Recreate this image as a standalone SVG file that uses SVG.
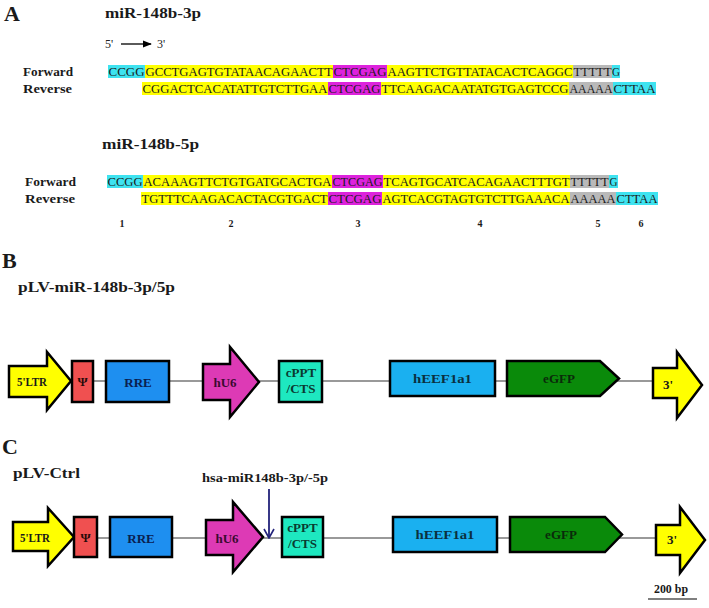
<svg xmlns="http://www.w3.org/2000/svg" width="709" height="608" viewBox="0 0 709 608">
<defs>
<style>
.t{font-family:"Liberation Serif","Times New Roman",serif;font-weight:bold;fill:#1a1a1a}
.seq{font-family:"Liberation Serif","Times New Roman",serif;font-size:12.5px;fill:#1a1a1a}
.cy{fill:#3ee3f0}.ye{fill:#ffff00}.mg{fill:#dd22dd}.gr{fill:#b9b9b9}
.nd{stroke:#000;stroke-width:2.5;stroke-linejoin:miter}
.lbl{font-family:"Liberation Serif","Times New Roman",serif;font-weight:bold;font-size:13px;text-anchor:middle}
.bb{stroke:#777;stroke-width:1.5;fill:none}
</style>
<marker id="ah" viewBox="0 0 10 10" refX="9" refY="5" markerWidth="7" markerHeight="7" orient="auto">
<path d="M0,1 L10,5 L0,9 z" fill="#000"/>
</marker>
<marker id="vh" viewBox="0 0 12 12" refX="6" refY="11" markerWidth="12" markerHeight="12" markerUnits="userSpaceOnUse" orient="0">
<path d="M1,2 L6,11 L11,2" fill="none" stroke="#22227a" stroke-width="1.6"/>
</marker>
</defs>
<rect width="709" height="608" fill="#fff"/>

<!-- Panel A -->
<g id="panelA">
<text class="t" x="4" y="21" font-size="22">A</text>
<text class="t" x="105" y="18" font-size="15" textLength="96" lengthAdjust="spacingAndGlyphs">miR-148b-3p</text>
<text x="105" y="48" font-family="Liberation Serif, serif" font-size="12" fill="#222">5'</text>
<line x1="121" y1="44" x2="151" y2="44" stroke="#000" stroke-width="1.3" marker-end="url(#ah)"/>
<text x="157" y="48" font-family="Liberation Serif, serif" font-size="12" fill="#222">3'</text>

<text class="t" x="23" y="76" font-size="13" textLength="50" lengthAdjust="spacingAndGlyphs">Forward</text>
<text class="t" x="23" y="93" font-size="13" textLength="49" lengthAdjust="spacingAndGlyphs">Reverse</text>

<!-- 3p forward -->
<rect class="cy" x="108" y="65" width="37" height="13"/>
<rect class="ye" x="145" y="65" width="188" height="13"/>
<rect class="mg" x="333" y="65" width="54" height="13"/>
<rect class="ye" x="387" y="65" width="186" height="13"/>
<rect class="gr" x="573" y="65" width="39" height="13"/>
<rect class="cy" x="612" y="65" width="8" height="13"/>
<text class="seq" x="108.5" y="76" textLength="36" lengthAdjust="spacingAndGlyphs">CCGG</text>
<text class="seq" x="145.5" y="76" textLength="187" lengthAdjust="spacingAndGlyphs">GCCTGAGTGTATAACAGAACTT</text>
<text class="seq" x="333.5" y="76" textLength="53" lengthAdjust="spacingAndGlyphs">CTCGAG</text>
<text class="seq" x="387.5" y="76" textLength="185" lengthAdjust="spacingAndGlyphs">AAGTTCTGTTATACACTCAGGC</text>
<text class="seq" x="573.5" y="76" textLength="38" lengthAdjust="spacingAndGlyphs">TTTTT</text>
<text class="seq" x="612" y="76" textLength="8" lengthAdjust="spacingAndGlyphs">G</text>
<!-- 3p reverse -->
<rect class="ye" x="142" y="82" width="186" height="13"/>
<rect class="mg" x="328" y="82" width="53" height="13"/>
<rect class="ye" x="381" y="82" width="188" height="13"/>
<rect class="gr" x="569" y="82" width="44" height="13"/>
<rect class="cy" x="613" y="82" width="43" height="13"/>
<text class="seq" x="142.5" y="93" textLength="185" lengthAdjust="spacingAndGlyphs">CGGACTCACATATTGTCTTGAA</text>
<text class="seq" x="328.5" y="93" textLength="52" lengthAdjust="spacingAndGlyphs">CTCGAG</text>
<text class="seq" x="381.5" y="93" textLength="187" lengthAdjust="spacingAndGlyphs">TTCAAGACAATATGTGAGTCCG</text>
<text class="seq" x="569.5" y="93" textLength="43" lengthAdjust="spacingAndGlyphs">AAAAA</text>
<text class="seq" x="613.5" y="93" textLength="42" lengthAdjust="spacingAndGlyphs">CTTAA</text>

<text class="t" x="102" y="149" font-size="15" textLength="97" lengthAdjust="spacingAndGlyphs">miR-148b-5p</text>
<text class="t" x="25" y="186" font-size="13" textLength="51" lengthAdjust="spacingAndGlyphs">Forward</text>
<text class="t" x="25" y="203" font-size="13" textLength="50" lengthAdjust="spacingAndGlyphs">Reverse</text>

<!-- 5p forward -->
<rect class="cy" x="107" y="175" width="36" height="13"/>
<rect class="ye" x="143" y="175" width="189" height="13"/>
<rect class="mg" x="332" y="175" width="51" height="13"/>
<rect class="ye" x="383" y="175" width="187" height="13"/>
<rect class="gr" x="570" y="175" width="39" height="13"/>
<rect class="cy" x="609" y="175" width="9" height="13"/>
<text class="seq" x="107.5" y="186" textLength="35" lengthAdjust="spacingAndGlyphs">CCGG</text>
<text class="seq" x="143.5" y="186" textLength="188" lengthAdjust="spacingAndGlyphs">ACAAAGTTCTGTGATGCACTGA</text>
<text class="seq" x="332.5" y="186" textLength="50" lengthAdjust="spacingAndGlyphs">CTCGAG</text>
<text class="seq" x="383.5" y="186" textLength="186" lengthAdjust="spacingAndGlyphs">TCAGTGCATCACAGAACTTTGT</text>
<text class="seq" x="570.5" y="186" textLength="38" lengthAdjust="spacingAndGlyphs">TTTTT</text>
<text class="seq" x="609.5" y="186" textLength="8" lengthAdjust="spacingAndGlyphs">G</text>
<!-- 5p reverse -->
<rect class="ye" x="141" y="192" width="187" height="13"/>
<rect class="mg" x="328" y="192" width="54" height="13"/>
<rect class="ye" x="382" y="192" width="188" height="13"/>
<rect class="gr" x="570" y="192" width="46" height="13"/>
<rect class="cy" x="616" y="192" width="42" height="13"/>
<text class="seq" x="141.5" y="203" textLength="186" lengthAdjust="spacingAndGlyphs">TGTTTCAAGACACTACGTGACT</text>
<text class="seq" x="328.5" y="203" textLength="53" lengthAdjust="spacingAndGlyphs">CTCGAG</text>
<text class="seq" x="382.5" y="203" textLength="187" lengthAdjust="spacingAndGlyphs">AGTCACGTAGTGTCTTGAAACA</text>
<text class="seq" x="570.5" y="203" textLength="45" lengthAdjust="spacingAndGlyphs">AAAAA</text>
<text class="seq" x="616.5" y="203" textLength="41" lengthAdjust="spacingAndGlyphs">CTTAA</text>

<g class="t" font-size="10" text-anchor="middle">
<text x="122" y="227">1</text>
<text x="231" y="227">2</text>
<text x="358" y="227">3</text>
<text x="480" y="227">4</text>
<text x="598" y="227">5</text>
<text x="641" y="227">6</text>
</g>
</g>

<!-- Panel B / C headings -->
<text class="t" x="2" y="268" font-size="22">B</text>
<text class="t" x="18" y="292" font-size="15" textLength="157" lengthAdjust="spacingAndGlyphs">pLV-miR-148b-3p/5p</text>
<text class="t" x="2" y="454" font-size="22">C</text>
<text class="t" x="13" y="478" font-size="15" textLength="67" lengthAdjust="spacingAndGlyphs">pLV-Ctrl</text>
<text class="t" x="202" y="482" font-size="13" textLength="126" lengthAdjust="spacingAndGlyphs">hsa-miR148b-3p/-5p</text>

<!-- connectors -->
<g id="connectors">
<line class="bb" x1="60" y1="381" x2="660" y2="381"/>
<line class="bb" x1="60" y1="538" x2="662" y2="538"/>
<line x1="269" y1="489" x2="269" y2="538" stroke="#22227a" stroke-width="1.8" marker-end="url(#vh)"/>
</g>

<!-- Row B nodes -->
<g id="b-5ltr">
<polygon class="nd" fill="#ffff00" points="9,366 47,366 47,352 71,381 47,410 47,397 9,397"/>
<text class="lbl" x="32" y="386" textLength="30" lengthAdjust="spacingAndGlyphs" fill="#1a1a1a">5'LTR</text>
</g>
<g id="b-psi">
<rect class="nd" fill="#f05050" x="72" y="361" width="21" height="41"/>
<text class="lbl" x="82.5" y="386" fill="#2a0a0a">Ψ</text>
</g>
<g id="b-rre">
<rect class="nd" fill="#1e8ff0" x="106" y="361" width="63" height="41"/>
<text class="lbl" x="138" y="387" fill="#0a2050" font-size="14">RRE</text>
</g>
<g id="b-hu6">
<polygon class="nd" fill="#dd3ab5" points="203,364 230,364 230,347 259,382 230,417 230,400 203,400"/>
<text class="lbl" x="225" y="387" fill="#3a0a30" font-size="14">hU6</text>
</g>
<g id="b-cppt">
<rect class="nd" fill="#1ee8c0" x="279" y="361" width="43" height="41"/>
<text class="lbl" x="301" y="377" fill="#0a3a30" font-size="11">cPPT</text>
<text class="lbl" x="301" y="393" fill="#0a3a30" font-size="11">/CTS</text>
</g>
<g id="b-heef">
<rect class="nd" fill="#1ab0f0" x="390" y="361" width="105" height="35"/>
<text class="lbl" x="442.5" y="383" fill="#0a3040" textLength="59" lengthAdjust="spacingAndGlyphs">hEEF1a1</text>
</g>
<g id="b-egfp">
<polygon class="nd" fill="#0a8a0a" points="507,361 600,361 619,378.5 600,396 507,396"/>
<text class="lbl" x="559" y="383" fill="#0a2a0a">eGFP</text>
</g>
<g id="b-3">
<polygon class="nd" fill="#ffff00" points="653,368 677,368 677,352 702,385 677,418 677,398 653,398"/>
<text class="lbl" x="668" y="389" fill="#1a1a1a" font-size="12">3'</text>
</g>

<!-- Row C nodes -->
<g id="c-5ltr">
<polygon class="nd" fill="#ffff00" points="13,522 48,522 48,508 74,537 48,566 48,551 13,551"/>
<text class="lbl" x="35" y="542" textLength="30" lengthAdjust="spacingAndGlyphs" fill="#1a1a1a">5'LTR</text>
</g>
<g id="c-psi">
<rect class="nd" fill="#f05050" x="74" y="517" width="23" height="40"/>
<text class="lbl" x="85.5" y="542" fill="#2a0a0a">Ψ</text>
</g>
<g id="c-rre">
<rect class="nd" fill="#1e8ff0" x="110" y="517" width="62" height="40"/>
<text class="lbl" x="141" y="543" fill="#0a2050" font-size="14">RRE</text>
</g>
<g id="c-hu6">
<polygon class="nd" fill="#dd3ab5" points="206,520 233,520 233,502 263,537 233,572 233,555 206,555"/>
<text class="lbl" x="227" y="543" fill="#3a0a30" font-size="14">hU6</text>
</g>
<g id="c-cppt">
<rect class="nd" fill="#1ee8c0" x="282" y="517" width="41" height="40"/>
<text class="lbl" x="302.5" y="532" fill="#0a3a30" font-size="11">cPPT</text>
<text class="lbl" x="302.5" y="548" fill="#0a3a30" font-size="11">/CTS</text>
</g>
<g id="c-heef">
<rect class="nd" fill="#1ab0f0" x="393" y="517" width="104" height="35"/>
<text class="lbl" x="445" y="539" fill="#0a3040" textLength="59" lengthAdjust="spacingAndGlyphs">hEEF1a1</text>
</g>
<g id="c-egfp">
<polygon class="nd" fill="#0a8a0a" points="510,517 605,517 622,534.5 605,552 510,552"/>
<text class="lbl" x="561" y="539" fill="#0a2a0a">eGFP</text>
</g>
<g id="c-3">
<polygon class="nd" fill="#ffff00" points="656,525 680,525 680,507 705,540 680,573 680,555 656,555"/>
<text class="lbl" x="672" y="544" fill="#1a1a1a" font-size="12">3'</text>
</g>

<!-- scale bar -->
<g id="scale">
<text class="t" x="671" y="593" font-size="12" text-anchor="middle" textLength="34" lengthAdjust="spacingAndGlyphs">200 bp</text>
<line x1="648" y1="599" x2="697" y2="599" stroke="#555" stroke-width="1.5"/>
</g>
</svg>
